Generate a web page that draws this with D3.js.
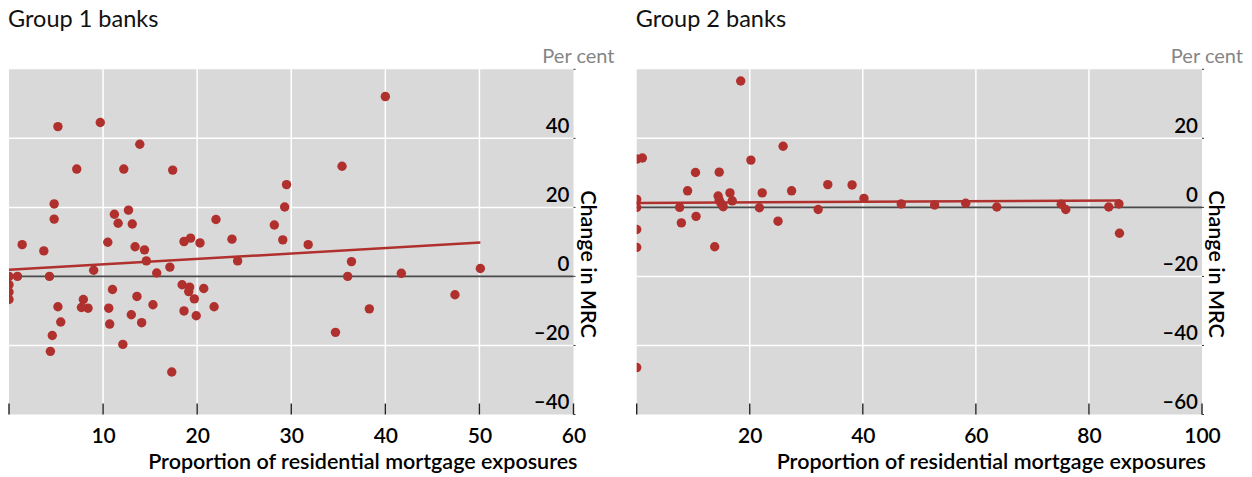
<!DOCTYPE html>
<html>
<head>
<meta charset="utf-8">
<script src="https://cdn.jsdelivr.net/npm/d3@7"></script>
<style>
  html, body { margin: 0; padding: 0; background: #fff; }
  svg { display: block; font-family: Lato, "Open Sans", sans-serif; }
</style>
</head>
<body>
<svg id="chart" width="1252" height="477"></svg>
<script>
// Group 1 banks: share of residential mortgage exposures (%) vs change in MRC (%)
const group1X = [5.2, 9.7, 13.9, 7.2, 12.2, 17.4, 29.5, 29.3, 4.8, 4.8, 11.2, 12.7, 11.6, 13.1, 22.0, 28.2,
  1.4, 3.7, 10.5, 13.4, 14.4, 18.6, 19.3, 20.3, 23.7, 29.1, 14.6, 24.3, 9.0, 17.1, 15.7, 0.9, 4.3,
  0, 0, 0, 0, 11.0, 18.4, 19.2, 19.1, 20.7, 19.7, 13.6, 7.9, 7.7, 8.4, 5.2, 10.6, 15.3, 21.8,
  5.5, 10.7, 13.0, 14.1, 18.6, 19.9, 4.6, 4.4, 12.1, 17.3,
  40.0, 35.4, 31.8, 36.4, 36.0, 41.7, 50.1, 47.4, 38.3, 34.7];
const group1Y = [43.4, 44.6, 38.3, 31.1, 31.1, 30.8, 26.6, 20.1, 21.0, 16.6, 18.0, 19.2, 15.4, 15.2, 16.5, 14.9,
  9.2, 7.4, 9.9, 8.6, 7.7, 10.1, 11.1, 9.7, 10.8, 10.6, 4.5, 4.5, 1.8, 2.7, 1.0, 0, 0,
  0, -2.4, -4.5, -6.7, -3.8, -2.4, -3.1, -4.4, -3.5, -6.5, -5.8, -6.7, -9.0, -9.2, -8.8, -9.2, -8.2, -8.8,
  -13.2, -13.8, -11.1, -13.4, -10.0, -11.4, -17.1, -21.7, -19.7, -27.7,
  52.1, 31.9, 9.2, 4.3, 0, 0.9, 2.3, -5.3, -9.4, -16.2];
// Fitted line for group 1 (end points)
const group1TrendX = [0, 50.1];
const group1TrendY = [1.9, 9.8];

// Group 2 banks
const group2X = [18.4, 25.9, 1.0, 0, 20.2, 10.4, 14.6, 9.0, 33.8, 38.1, 27.4, 22.2, 16.5, 14.4, 14.6, 16.9,
  14.9, 15.3, 0, 0, 7.6, 21.7, 40.2, 32.1, 46.8, 52.7, 58.2, 63.7, 75.1, 75.9, 83.5, 85.3, 85.4,
  10.5, 7.9, 25.0, 0, 0, 13.8, 0];
const group2Y = [36.6, 17.7, 14.3, 14.0, 13.7, 10.1, 10.2, 4.8, 6.6, 6.5, 4.8, 4.2, 4.2, 3.3, 2.1, 1.9,
  1.2, 0.2, 2.3, 0, 0, -0.1, 2.6, -0.6, 1.0, 0.7, 1.2, 0.1, 0.9, -0.6, 0.1, 1.0, -7.5,
  -2.6, -4.5, -4.0, -6.4, -11.6, -11.4, -46.4];
const group2TrendX = [0, 85.5];
const group2TrendY = [1.3, 2.0];

// Axis ticks
const group1XTicks = [0, 10, 20, 30, 40, 50, 60];
const group1XLabels = [10, 20, 30, 40, 50, 60];
const group1YTicks = [-40, -20, 0, 20, 40, 60];
const group1YLabels = [-40, -20, 0, 20, 40];
const group2XTicks = [0, 20, 40, 60, 80, 100];
const group2XLabels = [20, 40, 60, 80, 100];
const group2YTicks = [-60, -40, -20, 0, 20, 40];
const group2YLabels = [-60, -40, -20, 0, 20];

const titles = ["Group 1 banks", "Group 2 banks"];
const unitLabel = "Per cent";
const yTitle = "Change in MRC";
const xTitle = "Proportion of residential mortgage exposures";

const RED = "#b0302d";
const fmt = v => (v < 0 ? "\u2013" + Math.abs(v) : String(v));

const panels = [
  { title: titles[0], xs: group1X, ys: group1Y, tx: group1TrendX, ty: group1TrendY,
    xDomain: [0, 60], yDomain: [-40, 60], xTicks: group1XTicks, xLabels: group1XLabels,
    yTicks: group1YTicks, yLabels: group1YLabels, left: 9, right: 573.5 },
  { title: titles[1], xs: group2X, ys: group2Y, tx: group2TrendX, ty: group2TrendY,
    xDomain: [0, 100], yDomain: [-60, 40], xTicks: group2XTicks, xLabels: group2XLabels,
    yTicks: group2YTicks, yLabels: group2YLabels, left: 636.7, right: 1202 }
];

const svg = d3.select("#chart");
const plotTop = 69.3, plotBottom = 414.5;

panels.forEach((p, i) => {
  const x = d3.scaleLinear().domain(p.xDomain).range([p.left, p.right]);
  const y = d3.scaleLinear().domain(p.yDomain).range([plotBottom, plotTop]);
  const g = svg.append("g");

  const clipId = "clip" + i;
  svg.append("clipPath").attr("id", clipId)
    .append("rect").attr("x", p.left).attr("y", plotTop)
    .attr("width", p.right - p.left).attr("height", plotBottom - plotTop);

  // panel title and unit
  g.append("text").attr("x", p.left - 1).attr("y", 27)
    .attr("font-size", 23.5).attr("fill", "#111").text(p.title);
  g.append("text").attr("x", p.right + 41).attr("y", 63)
    .attr("text-anchor", "end").attr("font-size", 20).attr("fill", "#858585").text(unitLabel);

  // plot background
  g.append("rect").attr("x", p.left).attr("y", plotTop)
    .attr("width", p.right - p.left).attr("height", plotBottom - plotTop).attr("fill", "#d9d9d9");

  // grid
  g.selectAll(".vg").data(p.xTicks.slice(1, -1)).join("line")
    .attr("x1", d => x(d)).attr("x2", d => x(d)).attr("y1", plotTop).attr("y2", plotBottom)
    .attr("stroke", "#fff").attr("stroke-width", 1.5);
  g.selectAll(".hg").data(p.yTicks.filter(d => d !== 0 && d !== p.yDomain[0] && d !== p.yDomain[1])).join("line")
    .attr("x1", p.left).attr("x2", p.right).attr("y1", d => y(d)).attr("y2", d => y(d))
    .attr("stroke", "#fff").attr("stroke-width", 1.5);

  // zero line
  g.append("line").attr("x1", p.left).attr("x2", p.right).attr("y1", y(0)).attr("y2", y(0))
    .attr("stroke", "#4a4a4a").attr("stroke-width", 1.6);

  // x tick marks (inside, from bottom edge)
  g.selectAll(".xt").data(p.xTicks).join("line")
    .attr("x1", d => x(d)).attr("x2", d => x(d)).attr("y1", plotBottom).attr("y2", plotBottom - 11)
    .attr("stroke", "#222").attr("stroke-width", 1.4);

  // small y tick marks on right edge
  g.selectAll(".yt").data(p.yTicks).join("line")
    .attr("x1", p.right).attr("x2", p.right + 2).attr("y1", d => y(d)).attr("y2", d => y(d))
    .attr("stroke", "#333").attr("stroke-width", 1);

  // scatter points
  const pts = p.xs.map((v, k) => [v, p.ys[k]]);
  g.append("g").attr("clip-path", `url(#${clipId})`)
    .selectAll("circle").data(pts).join("circle")
    .attr("cx", d => x(d[0])).attr("cy", d => y(d[1])).attr("r", 4.7).attr("fill", RED);

  // fitted line
  const line = d3.line().x(d => x(d[0])).y(d => y(d[1]));
  g.append("path").datum(p.tx.map((v, k) => [v, p.ty[k]]))
    .attr("d", line).attr("fill", "none").attr("stroke", RED).attr("stroke-width", 2.5);

  // y labels, sitting just above their gridlines
  g.selectAll(".yl").data(p.yLabels).join("text")
    .attr("x", p.right - 4).attr("y", d => y(d) - 5.5)
    .attr("text-anchor", "end").attr("font-size", 20.5).attr("font-weight", 600)
    .attr("fill", "#000").text(fmt);

  // x labels via axis
  const ax = d3.axisBottom(x).tickValues(p.xLabels).tickSize(0).tickPadding(0).tickFormat(fmt);
  const axg = g.append("g").attr("transform", `translate(0,${plotBottom})`).call(ax);
  axg.select(".domain").remove();
  axg.selectAll("text").attr("font-size", 21).attr("font-family", "Lato, sans-serif")
    .attr("font-weight", 600).attr("fill", "#000").attr("dy", 0).attr("y", 28);

  // axis titles
  g.append("text").attr("x", p.right + 4).attr("y", 469)
    .attr("text-anchor", "end").attr("font-size", 21.5).attr("font-weight", 600)
    .attr("fill", "#000").text(xTitle);
  g.append("text").attr("transform", `translate(${p.right + 7},264) rotate(90)`)
    .attr("text-anchor", "middle").attr("font-size", 21.5).attr("font-weight", 600)
    .attr("fill", "#000").text(yTitle);
});
</script>
</body>
</html>
